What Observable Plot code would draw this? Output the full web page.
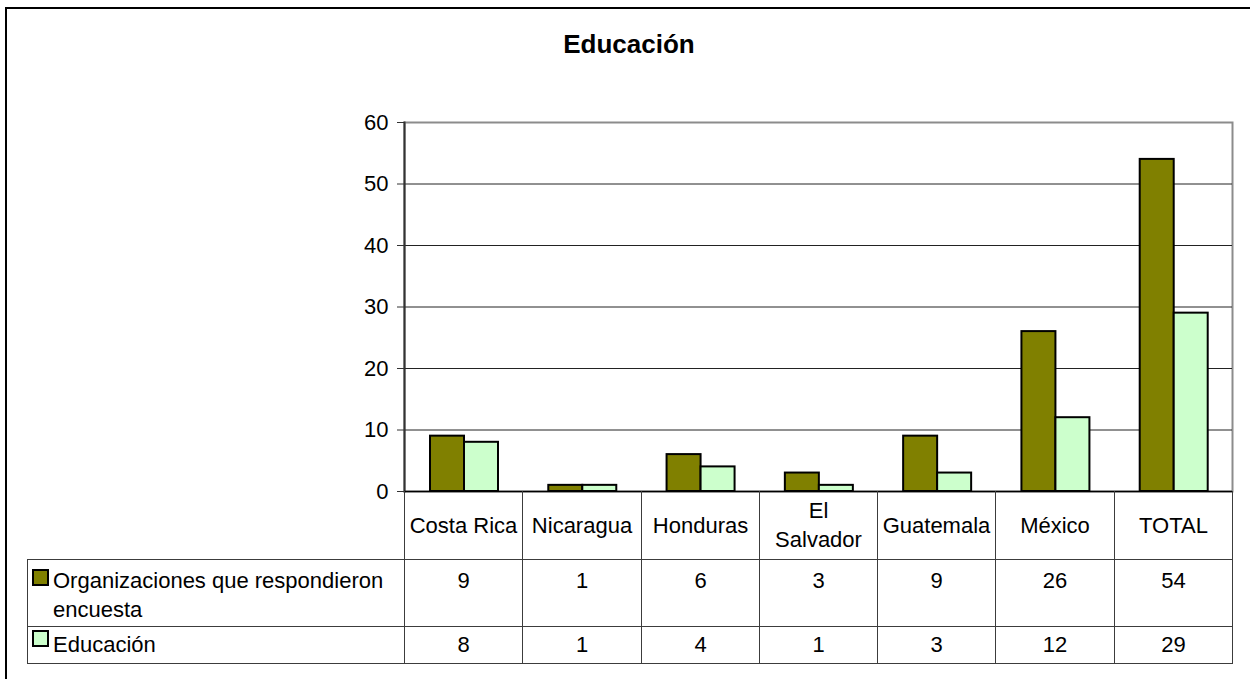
<!DOCTYPE html>
<html>
<head>
<meta charset="utf-8">
<script src="https://cdn.jsdelivr.net/npm/d3@7"></script>
<script src="https://cdn.jsdelivr.net/npm/@observablehq/plot@0.6"></script>
<style>
  html, body { margin: 0; padding: 0; background: #fff; }
  #wrap { position: relative; width: 1250px; height: 679px; overflow: hidden; font-family: "Liberation Sans", Arial, sans-serif; color: #000; }
  #frame { position: absolute; left: 5px; top: 7px; width: 2000px; height: 2000px; border-left: 2px solid #000; border-top: 2px solid #000; box-sizing: border-box; }
  #title { position: absolute; left: 0; top: 29px; width: 1258px; text-align: center; font-weight: bold; font-size: 26px; line-height: 30px; }
  #chart { position: absolute; left: 0; top: 0; }
  .cell { position: absolute; box-sizing: border-box; border: 1px solid #3c3c3c; font-size: 22px; line-height: 29px; }
  .hdr { display: flex; align-items: center; justify-content: center; text-align: center; padding: 0 4px; }
  .val { text-align: center; }
  .key { position: absolute; box-sizing: border-box; width: 17px; height: 17px; border: 2px solid #000; }
  .lbl { position: absolute; font-size: 22px; line-height: 29px; }
</style>
</head>
<body>
<div id="wrap">
  <div id="frame"></div>
  <div id="title"></div>
  <div id="chart"></div>
</div>
<script>
const chartTitle = "Educación";
const categories = ["Costa Rica", "Nicaragua", "Honduras", "El Salvador", "Guatemala", "México", "TOTAL"];
const seriesNames = ["Organizaciones que respondieron encuesta", "Educación"];
const organizaciones = [9, 1, 6, 3, 9, 26, 54];
const educacion = [8, 1, 4, 1, 3, 12, 29];
const seriesValues = [organizaciones, educacion];
const seriesColors = ["#808000", "#CCFFCC"];
const yTicks = [0, 10, 20, 30, 40, 50, 60];

document.getElementById("title").textContent = chartTitle;

const W = 1250, SVGH = 510;
const mLeft = 404, mRight = 18, mTop = 122, mBottom = 19;
const step = (W - mLeft - mRight) / categories.length;

const data = categories.flatMap((c, i) =>
  seriesNames.map((s, k) => ({country: c, series: s, value: seriesValues[k][i]}))
);

const chart = Plot.plot({
  width: W,
  height: SVGH,
  marginLeft: mLeft,
  marginRight: mRight,
  marginTop: mTop,
  marginBottom: mBottom,
  style: {fontFamily: "'Liberation Sans', Arial, sans-serif", fontSize: "22px", color: "#000", background: "transparent", overflow: "visible"},
  x: {domain: categories, padding: 0, round: false, axis: null},
  y: {domain: [0, 60], ticks: yTicks, label: null, axis: null},
  color: {domain: seriesNames, range: seriesColors},
  marks: [
    Plot.frame({stroke: "#8c8c8c", strokeWidth: 2}),
    Plot.gridY(yTicks.slice(1, -1), {stroke: "#222", strokeOpacity: 1, strokeWidth: 1}),
    Plot.axisY({ticks: yTicks, tickSize: 7, tickPadding: 9, tickFormat: d => String(d), label: null, fontSize: 22, stroke: "#333"}),
    Plot.frame({anchor: "left", stroke: "#333", strokeWidth: 2}),
    Plot.ruleY([0], {stroke: "#000", strokeWidth: 1.5}),
    Plot.barY(data.filter(d => d.series === seriesNames[0]), {
      x: "country", y: "value", fill: "series", stroke: "#000", strokeWidth: 2,
      insetLeft: 26, insetRight: step - 60
    }),
    Plot.barY(data.filter(d => d.series === seriesNames[1]), {
      x: "country", y: "value", fill: "series", stroke: "#000", strokeWidth: 2,
      insetLeft: 60, insetRight: step - 94
    })
  ]
});
document.getElementById("chart").appendChild(chart);

// data table below the plot
const wrap = document.getElementById("wrap");
const tblLeft = 27, rowTops = [491, 559, 626, 663];
function colX(i) { return Math.round(mLeft + i * step); }
function addCell(cls, x0, x1, y0, y1, html, extra) {
  const d = document.createElement("div");
  d.className = "cell " + cls;
  d.style.left = x0 + "px";
  d.style.top = y0 + "px";
  d.style.width = (x1 - x0 + 1) + "px";
  d.style.height = (y1 - y0 + 1) + "px";
  if (extra) Object.assign(d.style, extra);
  if (html != null) d.textContent = html;
  wrap.appendChild(d);
  return d;
}
// header row with category names
categories.forEach((c, i) => {
  const d = addCell("hdr", colX(i), colX(i + 1), rowTops[0], rowTops[1], c, {borderTop: "none"});
});
// series rows
seriesNames.forEach((s, k) => {
  const y0 = rowTops[k + 1], y1 = rowTops[k + 2];
  addCell("", tblLeft, mLeft, y0, y1, null);
  const key = document.createElement("div");
  key.className = "key";
  key.style.background = seriesColors[k];
  key.style.left = "32px";
  key.style.top = (k === 0 ? y0 + 10 : y0 + 4) + "px";
  wrap.appendChild(key);
  const lbl = document.createElement("div");
  lbl.className = "lbl";
  lbl.style.left = "53px";
  lbl.style.width = (mLeft - 53) + "px";
  lbl.style.top = (k === 0 ? y0 + 7 : y0 + 4) + "px";
  lbl.textContent = s;
  wrap.appendChild(lbl);
  categories.forEach((c, i) => {
    addCell("val", colX(i), colX(i + 1), y0, y1, String(seriesValues[k][i]),
      {paddingTop: (k === 0 ? 6 : 3) + "px"});
  });
});
</script>
</body>
</html>
